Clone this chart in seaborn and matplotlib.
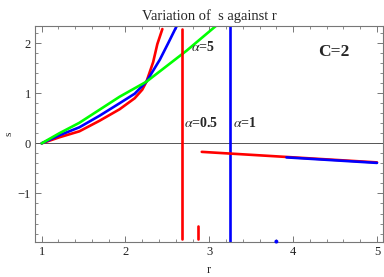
import numpy as np
import pandas as pd
import seaborn as sns
import matplotlib.pyplot as plt
from matplotlib.ticker import MultipleLocator

# values
r_red = [1.0, 1.21, 1.45, 1.69, 1.93, 2.11, 2.2, 2.25, 2.33, 2.38, 2.44]
s_red = [0.0, 0.12, 0.24, 0.45, 0.68, 0.90, 1.07, 1.23, 1.62, 1.98, 2.28]
r_blue = [1.0, 1.21, 1.45, 1.69, 1.93, 2.11, 2.25, 2.41, 2.51, 2.59, 2.63]
s_blue = [0.0, 0.16, 0.32, 0.55, 0.80, 0.99, 1.23, 1.67, 2.0, 2.27, 2.4]
r_green = [1.0, 1.21, 1.45, 1.69, 1.93, 2.25, 2.73, 3.12]
s_green = [0.0, 0.2, 0.41, 0.67, 0.93, 1.23, 1.85, 2.4]

# pole / branch pieces
r_red_pole = [2.68, 2.68]
s_red_pole = [2.28, -1.9]
r_red_stub = [2.87, 2.87]
s_red_stub = [-1.65, -1.9]
r_blue_pole = [3.25, 3.25]
s_blue_pole = [2.5, -2.1]
r_red_tail = [2.91, 5.0]
s_red_tail = [-0.17, -0.38]
r_blue_tail = [3.92, 5.0]
s_blue_tail = [-0.28, -0.39]
r_blue_dot = [3.80]
s_blue_dot = [-1.96]

sns.set_style('ticks')
plt.rcParams['font.family'] = ['Liberation Serif', 'DejaVu Serif']
plt.rcParams['mathtext.fontset'] = 'stix'

fig = plt.figure(figsize=(3.84, 2.77), dpi=100)
ax = fig.add_axes([0.091, 0.126, 0.906, 0.78])

ax.axhline(0, color='#555555', lw=0.7, zorder=1)

pieces = [
    (r_red, s_red, 'red'),
    (r_blue, s_blue, 'blue'),
    (r_green, s_green, '#00ff00'),
    (r_red_pole, s_red_pole, 'red'),
    (r_red_stub, s_red_stub, 'red'),
    (r_blue_pole, s_blue_pole, 'blue'),
    (r_red_tail, s_red_tail, 'red'),
    (r_blue_tail, s_blue_tail, 'blue'),
]
for rr, ss, col in pieces:
    df = pd.DataFrame({'r': rr, 's': ss})
    sns.lineplot(data=df, x='r', y='s', color=col, lw=1.9, sort=False,
                 estimator=None, ax=ax)

sns.scatterplot(x=r_blue_dot, y=s_blue_dot, color='blue', s=8, ax=ax,
                edgecolor='none', zorder=5, clip_on=False)

ax.set_xlim(0.92, 5.07)
ax.set_ylim(-1.97, 2.34)
ax.xaxis.set_major_locator(MultipleLocator(1))
ax.xaxis.set_minor_locator(MultipleLocator(0.2))
ax.yaxis.set_major_locator(MultipleLocator(1))
ax.yaxis.set_minor_locator(MultipleLocator(0.2))
ax.tick_params(which='both', direction='in', top=True, right=True,
               color='#777777', labelsize=9, labelcolor='#222222', pad=3)
ax.tick_params(which='major', length=4, width=0.7)
ax.tick_params(which='minor', length=2, width=0.6)
for sp in ax.spines.values():
    sp.set_color('#777777')
    sp.set_linewidth(0.8)

ax.set_title('Variation of  s against r', fontsize=10.5, pad=4)
ax.set_xlabel('r', fontsize=9, labelpad=4)
ax.set_ylabel('s', fontsize=8, labelpad=3)

ax.text(2.78, 1.93, r'$\alpha$=5', fontsize=10, fontweight='bold', va='center')
ax.text(2.7, 0.41, r'$\alpha$=0.5', fontsize=10, fontweight='bold', va='center')
ax.text(3.28, 0.41, r'$\alpha$=1', fontsize=10, fontweight='bold', va='center')
ax.text(4.3, 1.83, 'C=2', fontsize=12.5, fontweight='bold', va='center')

fig.savefig('out.png', dpi=100)
